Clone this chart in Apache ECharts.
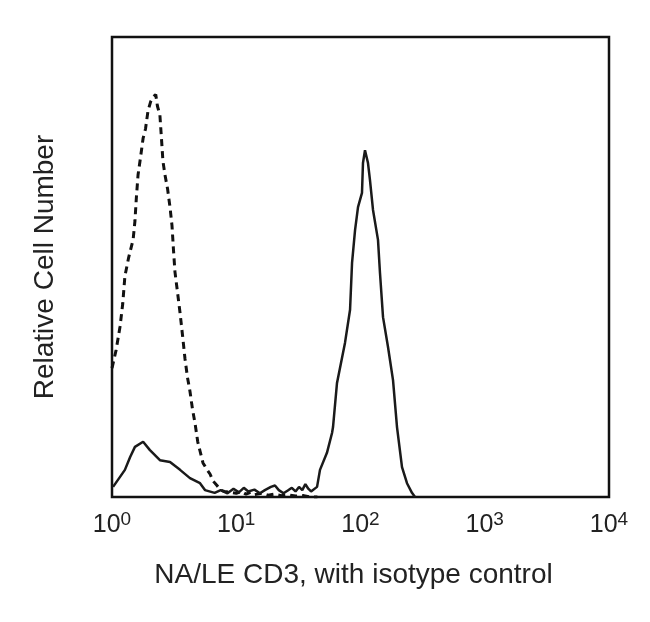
<!DOCTYPE html>
<html>
<head>
<meta charset="utf-8">
<script src="https://cdn.jsdelivr.net/npm/echarts@6/dist/echarts.min.js"></script>
<style>html,body{margin:0;padding:0;background:#fff}#c{width:650px;height:622px}</style>
</head>
<body>
<div id="c"></div>
<script>
// X values are fluorescence intensity (log scale), Y values relative cell number (0-100)
var tickExponents = [0, 1, 2, 3, 4];
var xAxisTitle = 'NA/LE CD3, with isotype control';
var yAxisTitle = 'Relative Cell Number';

var isotypeX = [1.00,1.08,1.16,1.22,1.27,1.36,1.48,1.53,1.57,1.62,1.70,1.78,1.86,1.95,2.05,2.15,2.25,2.32,2.43,2.50,2.57,2.67,2.80,2.93,3.04,3.12,3.21,3.35,3.53,3.70,3.87,4.05,4.24,4.45,4.66,4.90,5.11,5.40,5.80,6.15,6.50,7.0,7.5,8.0,9.0,10,11,12,13,14,16,18,20,23,26,30,35,40,45];
var isotypeY = [28,32,37,42,48,52,56,60,65,70,74,78,80,84,86,87,87.5,85,83,78,73,70,67,63,59,54,49,45,40,35,30,26,23,19,16,12,10,7.4,6,5,3.5,2.5,1.5,1.2,1,0.8,1.2,0.6,1,0.5,0.8,0.4,0.6,0.3,0.5,0.2,0.3,0,0];

var cd3X = [1.02,1.27,1.40,1.53,1.78,2.02,2.43,2.93,3.53,4.24,5.11,5.6,6.7,7.5,8.5,9.5,10.5,11.5,12.5,14,15.5,17,19,20.5,22,24,26,28,30,32,34,36,38,40,44.7,47.2,53.7,59.0,60.1,64.7,75.0,82.4,85.5,90.4,95.5,102.8,104.7,108.7,114.9,119.2,126.1,138.3,143.5,151.8,166.5,182.7,196.7,215.8,236.7,259.6,274.6];
var cd3Y = [2.2,5.9,8.7,10.9,12.0,10.2,8.0,7.6,5.9,4.1,3.0,1.5,0.9,1.5,0.8,1.8,1,2,1.2,1.6,0.8,1.5,2.2,2.5,1.5,0.8,1.4,2,1.2,2.2,1.5,2.8,1.8,1.2,2.2,5.9,9.6,13.9,15.2,24.8,33.5,40.7,50.9,58.0,63.0,66.1,72.6,75.4,72.6,68.9,62.4,55.9,48.7,39.1,32.6,25.4,15.2,6.5,3.0,0.9,0];

function pairs(xs, ys) { return xs.map(function (x, i) { return [x, ys[i]]; }); }

var chart = echarts.init(document.getElementById('c'), null, {renderer: 'canvas'});
chart.setOption({
  animation: false,
  backgroundColor: '#fff',
  grid: {left: 112, right: 41, top: 37, bottom: 125, show: true, borderColor: '#111', borderWidth: 2.5, backgroundColor: 'transparent'},
  xAxis: {
    type: 'log', logBase: 10, min: 1, max: 10000,
    name: xAxisTitle, nameLocation: 'middle', nameGap: 64,
    nameTextStyle: {fontFamily: 'Liberation Sans', fontSize: 28, color: '#222', padding: [0, 14, 0, 0]},
    axisLine: {show: false}, axisTick: {show: false}, splitLine: {show: false},
    axisLabel: {
      margin: 13,
      formatter: function (v) {
        var e = Math.round(Math.log10(v));
        if (tickExponents.indexOf(e) < 0) return '';
        return '{b|10}{s|' + e + '}';
      },
      rich: {
        b: {fontFamily: 'Liberation Sans', fontSize: 25, color: '#222', verticalAlign: 'bottom', lineHeight: 28},
        s: {fontFamily: 'Liberation Sans', fontSize: 19, color: '#222', verticalAlign: 'top', padding: [0, 0, 16, 0], lineHeight: 28}
      }
    }
  },
  yAxis: {
    type: 'value', min: 0, max: 100,
    name: yAxisTitle, nameLocation: 'middle', nameGap: 53,
    nameTextStyle: {fontFamily: 'Liberation Sans', fontSize: 28, color: '#222'},
    axisLine: {show: false}, axisTick: {show: false}, axisLabel: {show: false}, splitLine: {show: false}
  },
  series: [
    {type: 'line', data: pairs(isotypeX, isotypeY), showSymbol: false, z: 3,
     lineStyle: {color: '#111', width: 3, type: [7, 5]}},
    {type: 'line', data: pairs(cd3X, cd3Y), showSymbol: false, z: 4,
     lineStyle: {color: '#1a1a1a', width: 2.5}}
  ]
});
</script>
</body>
</html>
